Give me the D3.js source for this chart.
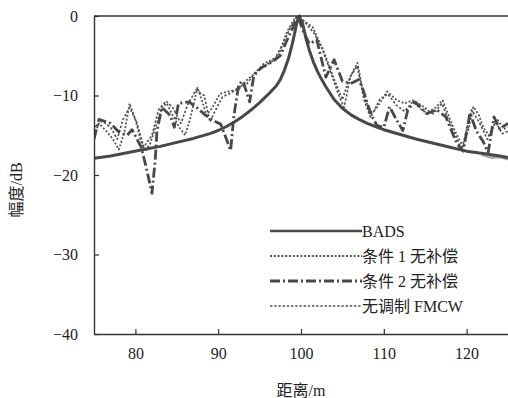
<!DOCTYPE html>
<html>
<head>
<meta charset="utf-8">
<script src="https://cdn.jsdelivr.net/npm/d3@7"></script>
<style>
  body { margin: 0; background: #fff; }
  text { font-family: "Liberation Serif", "Noto Sans CJK SC", serif; fill: #222; }
</style>
</head>
<body>
<div id="chart"></div>
<script>
// distance (m) / amplitude (dB)
const badsX = [75, 77, 79, 81, 83, 85, 87, 89, 90, 91, 92, 93, 94, 95, 96, 97, 97.5, 98, 98.5, 99, 99.5, 99.8,
    100.2, 100.6, 101, 101.5, 102, 102.5, 103, 104, 105, 106, 107, 108, 109, 110, 112, 114, 116, 118, 120, 122, 124, 125];
const badsY = [-17.9, -17.6, -17.2, -16.8, -16.4, -15.9, -15.4, -14.8, -14.4, -13.9, -13.3, -12.6, -11.8, -10.9, -9.9, -8.8, -8, -6.8, -5.3, -3.3, -0.8, 0,
    -1, -2.8, -4.3, -5.8, -7, -8, -8.9, -10.5, -11.6, -12.4, -13, -13.5, -13.9, -14.3, -14.9, -15.5, -16, -16.5, -17, -17.3, -17.6, -17.8];

const cond1X = [75, 75.6, 76.5, 77.3, 78, 78.7, 79.3, 80, 80.6, 81.2, 81.8, 82.6, 83.2, 83.8, 84.5, 85.3, 86, 86.6, 87.5, 88, 88.6,
    89.3, 90.2, 91.2, 92.5, 93.5, 94.5, 95.5, 96.5, 97.3, 98.3, 99.3, 100.2, 101.4, 102.7, 103.9, 105, 105.8, 106.8, 107.5, 108.3,
    109, 110.4, 111.6, 112.5, 113.5, 114.5, 115.5, 116.3, 117.1, 118, 118.6, 119.6, 120.3, 120.8, 121.5, 122, 122.7, 123.7, 124.5, 125];
const cond1Y = [-15, -13.5, -14.5, -15.5, -16.8, -14.5, -11, -13, -15.5, -17, -16, -13.5, -11.5, -11, -12.5, -14, -15, -13, -9, -10.5, -12.5,
    -11.5, -9.8, -9.5, -9.2, -8, -7.2, -6, -5.5, -5, -2, -0.2, -0.5, -1.4, -4.3, -7.7, -10.5, -8, -5.9, -9.5, -12.2,
    -11.8, -9.5, -10.6, -11, -10.6, -11.2, -12, -11.5, -10.6, -13, -14.5, -16.5, -14, -11.4, -12.5, -14, -15, -13, -14.2, -14];

const cond2X = [75, 75.6, 77, 78, 79, 79.6, 80.7, 81.3, 82, 82.4, 82.6, 83.2, 84.2, 84.7, 85.2, 86.5, 87.5, 88.5, 89.5, 90.3, 91,
    91.5, 91.9, 92.5, 93, 93.8, 94.3, 95.2, 96.5, 97.5, 98.2, 99, 99.6, 100.3, 101, 101.9, 103, 104, 105, 106, 107, 107.5, 108.5,
    109.2, 110, 110.7, 111.5, 112.3, 112.9, 113.7, 114.5, 115.2, 116.4, 117.5, 118.2, 118.8, 119.6, 120.4, 121.2, 122, 122.6, 123.3, 124, 125];
const cond2Y = [-15.5, -13, -13.5, -14.6, -15, -14.3, -16.5, -19, -22.3, -18, -14.5, -11.5, -12.5, -14, -11, -10.8, -11.6, -12.5, -13.2, -13.6, -15.5,
    -16.9, -12.5, -8.5, -8.2, -10.8, -7.5, -6.5, -5.8, -5, -3.3, -1.5, 0, -2, -3.5, -3, -7.7, -5.5, -8.2, -8.5, -8, -9.3, -12.5,
    -13.8, -14, -11.4, -13, -14.4, -11.8, -10.8, -11.5, -12.3, -11.8, -12.7, -14.5, -16, -17, -12.2, -14.5, -15.8, -17.2, -12.7, -14.2, -13.5];

const fmcwX = [75, 76, 77, 77.8, 78.5, 79.3, 80.2, 81, 82, 82.8, 83.7, 84.5, 85.5, 86.3, 87.3, 88.3, 89, 89.6, 90.5, 91.5, 92.5,
    93.5, 94.5, 95.6, 96.8, 97.8, 98.7, 99.5, 100.5, 101.6, 102.5, 103.5, 104.5, 105.2, 106, 106.8, 107.6, 108.4, 109.5, 110.5,
    111.5, 112.5, 113.5, 114.8, 116, 117, 118.2, 119.4, 120.6, 121.6, 122.5, 123.5, 124.3, 125];
const fmcwY = [-14, -13.2, -14, -15.5, -13, -11.5, -13.5, -16.5, -15, -11.8, -10.7, -11.5, -13.5, -11.2, -9.3, -10, -13.3, -12, -10.2, -9.7, -9,
    -8.5, -7, -6.3, -5.5, -3.5, -1.5, -0.1, -0.8, -2.2, -4, -6.8, -9.8, -11.5, -7.5, -6.3, -10.5, -12.8, -10.5, -9.8,
    -11.2, -12, -10.8, -12, -12.3, -11, -14, -16.8, -11.8, -13.5, -15.5, -13.3, -14.8, -14.5];

// light grey piece showing under BADS at the far right
const tailX = [121.8, 123, 124, 125];
const tailY = [-17.4, -17.8, -17.7, -18];

const xTicks = [80, 90, 100, 110, 120];
const yTicks = [0, -10, -20, -30, -40];

const seriesList = [
    {name: "BADS", xs: badsX, ys: badsY, color: "#484848", width: 3, dash: null},
    {name: "条件 1 无补偿", xs: cond1X, ys: cond1Y, color: "#555", width: 1.8, dash: "2,1.8"},
    {name: "条件 2 无补偿", xs: cond2X, ys: cond2Y, color: "#484848", width: 2.8, dash: "10,3,2,3"},
    {name: "无调制 FMCW", xs: fmcwX, ys: fmcwY, color: "#505050", width: 1.6, dash: "2.4,1.8"}
];

const W = 508, H = 398;
const margin = {top: 16, right: 0, bottom: 64, left: 94};
const width = W - margin.left - margin.right;
const height = H - margin.top - margin.bottom;

const svg = d3.select("#chart").append("svg")
    .attr("width", W)
    .attr("height", H);

const g = svg.append("g")
    .attr("transform", "translate(" + margin.left + "," + margin.top + ")");

const x = d3.scaleLinear().domain([75, 125]).range([0, width]);
const y = d3.scaleLinear().domain([-40, 0]).range([height, 0]);

g.append("clipPath").attr("id", "clip")
    .append("rect").attr("x", 0).attr("y", -2).attr("width", width).attr("height", height + 2);

const line = d3.line()
    .x(d => x(d[0]))
    .y(d => y(d[1]));

const plot = g.append("g").attr("clip-path", "url(#clip)");

plot.append("path")
    .datum(d3.zip(tailX, tailY))
    .attr("fill", "none")
    .attr("stroke", "#a8a8a8")
    .attr("stroke-width", 3)
    .attr("d", line);

// draw order: dotted ones under, BADS on top
[seriesList[3], seriesList[1], seriesList[2], seriesList[0]].forEach(s => {
    plot.append("path")
        .datum(d3.zip(s.xs, s.ys))
        .attr("fill", "none")
        .attr("stroke", s.color)
        .attr("stroke-width", s.width)
        .attr("stroke-dasharray", s.dash)
        .attr("stroke-linejoin", "round")
        .attr("d", line);
});

// axes, ticks pointing inward
const xAxis = d3.axisBottom(x).tickValues(xTicks).tickSizeInner(-5).tickSizeOuter(0).tickPadding(14);
const yAxis = d3.axisLeft(y).tickValues(yTicks).tickSizeInner(-5).tickSizeOuter(0).tickPadding(16)
    .tickFormat(d => d < 0 ? "\u2212" + Math.abs(d) : d);

const gx = g.append("g").attr("transform", "translate(0," + height + ")").call(xAxis);
const gy = g.append("g").call(yAxis);

[gx, gy].forEach(a => {
    a.attr("font-family", null).attr("font-size", null);
    a.select(".domain").attr("stroke", "#333").attr("stroke-width", 1.4);
    a.selectAll(".tick line").attr("stroke", "#333").attr("stroke-width", 1.2);
    a.selectAll(".tick text")
        .attr("fill", "#222")
        .style("font-family", "'Liberation Serif', serif")
        .style("font-size", "16px");
});

// top frame line
g.append("line")
    .attr("x1", 0).attr("x2", width)
    .attr("y1", 0).attr("y2", 0)
    .attr("stroke", "#333").attr("stroke-width", 1.4);

svg.append("text")
    .attr("x", margin.left + x(100))
    .attr("y", 396)
    .attr("text-anchor", "middle")
    .style("font-size", "16px")
    .text("距离/m");

svg.append("text")
    .attr("transform", "translate(22,190) rotate(-90)")
    .attr("text-anchor", "middle")
    .style("font-size", "16px")
    .text("幅度/dB");

// legend
const legend = svg.append("g").attr("transform", "translate(270,231)");
seriesList.forEach((s, i) => {
    const row = legend.append("g").attr("transform", "translate(0," + (i * 25) + ")");
    row.append("line")
        .attr("x1", 0).attr("x2", 92)
        .attr("stroke", s.color)
        .attr("stroke-width", s.width === 3 ? 2.6 : s.width)
        .attr("stroke-dasharray", s.dash);
    row.append("text")
        .attr("x", 92)
        .attr("dy", "0.35em")
        .style("font-size", "16px")
        .text(s.name);
});
</script>
</body>
</html>
